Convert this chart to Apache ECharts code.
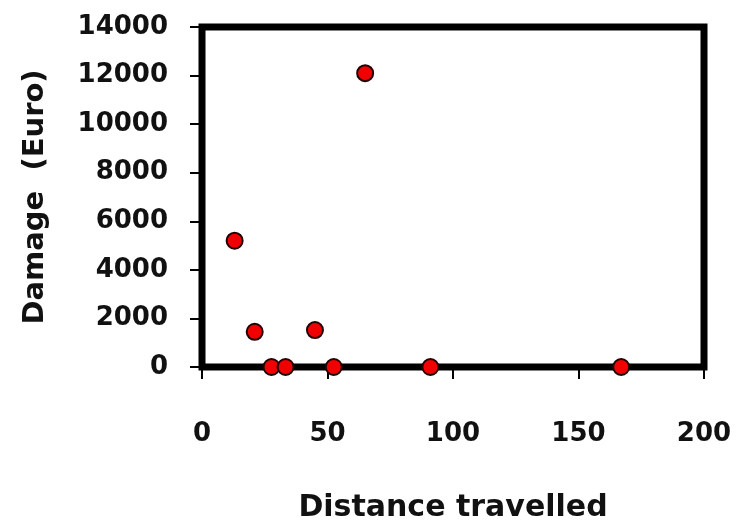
<!DOCTYPE html>
<html>
<head>
<meta charset="utf-8">
<script src="https://cdn.jsdelivr.net/npm/echarts@6/dist/echarts.min.js"></script>
<style>
html,body{margin:0;padding:0;background:#fff;}
#c{width:736px;height:524px;}
</style>
</head>
<body>
<div id="c"></div>
<script>
// Data
var distance = [13, 21, 27.7, 33.3, 45, 52.5, 65, 91, 167];
var damage   = [5200, 1450, 0, 0, 1520, 0, 12100, 0, 0];
var xTicks = [0, 50, 100, 150, 200];
var yTicks = [0, 2000, 4000, 6000, 8000, 10000, 12000, 14000];

var points = distance.map(function (d, i) { return [d, damage[i]]; });

var FONT = 'DejaVu Sans';
var chart = echarts.init(document.getElementById('c'));
chart.setOption({
  backgroundColor: '#fff',
  animation: false,
  grid: {
    left: 202, right: 32, top: 27, bottom: 157,
    containLabel: false,
    outerBoundsMode: 'none',
    show: true, borderColor: '#000', borderWidth: 7, backgroundColor: '#fff'
  },
  xAxis: {
    type: 'value',
    min: xTicks[0], max: xTicks[xTicks.length - 1], interval: 50,
    name: 'Distance travelled',
    nameLocation: 'middle',
    nameGap: 126,
    nameTextStyle: { fontFamily: FONT, fontSize: 30, fontWeight: 'bold', color: '#111' },
    axisLine: { show: false },
    axisTick: { show: true, length: 12, lineStyle: { color: '#000', width: 2 } },
    axisLabel: { margin: 54, fontFamily: FONT, fontSize: 26, fontWeight: 'bold', color: '#111',
                 formatter: function (v) { return String(v); } },
    splitLine: { show: false }
  },
  yAxis: {
    type: 'value',
    min: yTicks[0], max: yTicks[yTicks.length - 1], interval: 2000,
    name: 'Damage  (Euro)',
    nameLocation: 'middle',
    nameGap: 152,
    nameRotate: 90,
    nameTextStyle: { fontFamily: FONT, fontSize: 29, fontWeight: 'bold', color: '#111' },
    axisLine: { show: false },
    axisTick: { show: true, length: 12, lineStyle: { color: '#000', width: 2 } },
    axisLabel: { margin: 34, fontFamily: FONT, fontSize: 26, fontWeight: 'bold', color: '#111',
                 formatter: function (v) { return String(v); } },
    splitLine: { show: false }
  },
  series: [{
    type: 'scatter',
    data: points,
    symbol: 'circle',
    symbolSize: 16,
    itemStyle: { color: '#f00000', borderColor: '#220000', borderWidth: 2, opacity: 1 },
    z: 5
  }]
});
</script>
</body>
</html>
